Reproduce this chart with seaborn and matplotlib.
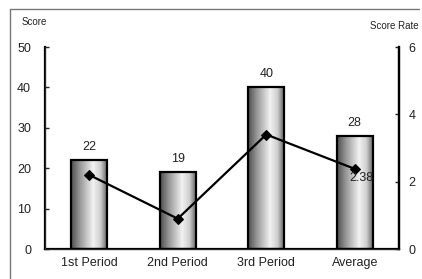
import numpy as np
import pandas as pd
import matplotlib
matplotlib.use("Agg")
import matplotlib.pyplot as plt
import seaborn as sns
from matplotlib.colors import LinearSegmentedColormap
from matplotlib.lines import Line2D

# Data
periods = ["1st Period", "2nd Period", "3rd Period", "Average"]
scores = [22, 19, 40, 28]
score_rates = [2.2, 0.9, 3.4, 2.38]

df = pd.DataFrame({"period": periods, "score": scores, "rate": score_rates})

sns.set_style("white")
plt.rcParams["font.family"] = ["Liberation Sans", "DejaVu Sans"]
plt.rcParams["text.color"] = "#222222"
plt.rcParams["xtick.labelcolor"] = "#222222"
plt.rcParams["ytick.labelcolor"] = "#222222"

fig = plt.figure(figsize=(4.22, 2.79), dpi=100)
ax = fig.add_axes([45 / 422, 1 - 249 / 279, 354 / 422, 202 / 279])

sns.barplot(data=df, x="period", y="score", ax=ax, width=0.41,
            color="white", edgecolor="black", linewidth=1.6, zorder=2)

# cylinder-like gray shading inside each bar
cyl = LinearSegmentedColormap.from_list(
    "cyl", ["#4d4d4d", "#9a9a9a", "#f2f2f2", "#cfcfcf", "#5a5a5a"])
grad = np.linspace(0, 1, 256).reshape(1, -1)
grad = np.interp(grad, [0, 0.25, 0.6, 0.8, 1], [0, 0.25, 0.5, 0.75, 1])
for p in ax.patches:
    x0, w, h = p.get_x(), p.get_width(), p.get_height()
    ax.imshow(grad, cmap=cyl, aspect="auto", extent=(x0, x0 + w, 0, h),
              zorder=1.5)
    p.set_facecolor("none")
    ax.text(x0 + w / 2, h + 1.8, f"{h:g}", ha="center", va="bottom",
            fontsize=9)

ax.set_xlim(-0.5, 3.5)
ax.set_ylim(0, 50)
ax.set_yticks(range(0, 51, 10))
ax.set_xlabel("")
ax.set_ylabel("")
ax.set_xticks([0.5, 1.5, 2.5], minor=True)
ax.tick_params(axis="x", which="major", length=0, pad=6, labelsize=9)
ax.tick_params(axis="x", which="minor", length=3, direction="in",
               width=0.8, color="#555555")
ax.tick_params(axis="y", length=3, direction="in", width=1, pad=10,
               labelsize=9)
for s in ["left", "bottom", "right"]:
    ax.spines[s].set_linewidth(1.6)
    ax.spines[s].set_color("black")
ax.spines["top"].set_visible(False)

ax2 = ax.twinx()
sns.lineplot(x=np.arange(len(periods)), y=score_rates, ax=ax2, color="black",
             linewidth=1.6, marker="D", markersize=5, markeredgecolor="black")
ax2.set_ylim(0, 6)
ax2.set_yticks([0, 2, 4, 6])
ax2.tick_params(axis="y", length=3, direction="in", width=1, pad=7,
                labelsize=9)
ax2.spines["top"].set_visible(False)
ax2.spines["right"].set_linewidth(1.6)
ax2.spines["right"].set_color("black")
ax2.text(3 + 0.07, score_rates[3] - 0.27, f"{score_rates[3]:.2f}",
         ha="center", va="center", fontsize=9)

fig.text(22 / 422, 1 - 22 / 279, "Score", fontsize=7, va="center")
fig.text(419 / 422, 1 - 26 / 279, "Score Rate", fontsize=7, ha="right",
         va="center")

# outer frame lines
fig.add_artist(Line2D([10 / 422, 10 / 422], [0, 1 - 9 / 279],
                      transform=fig.transFigure, color="#777777", lw=1))
fig.add_artist(Line2D([10 / 422, 419 / 422], [1 - 9 / 279, 1 - 9 / 279],
                      transform=fig.transFigure, color="#777777", lw=1))

fig.savefig("out.png", dpi=100)
